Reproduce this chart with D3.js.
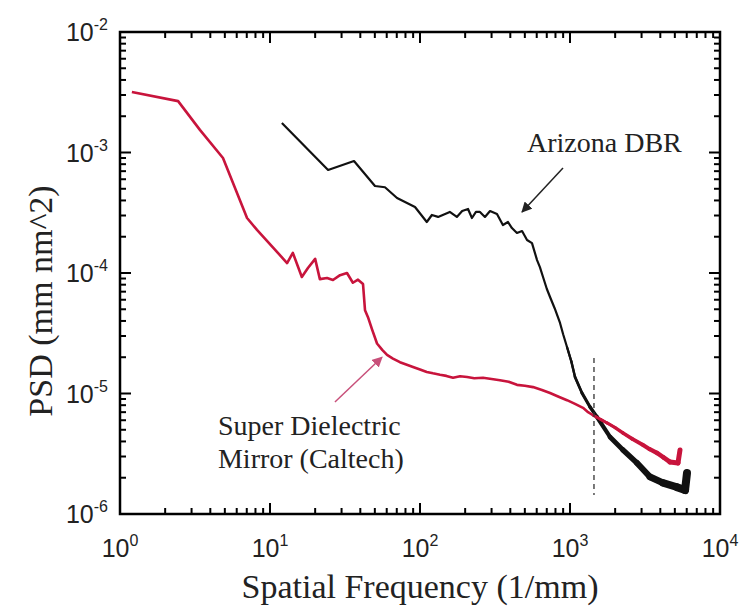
<!DOCTYPE html>
<html><head><meta charset="utf-8">
<script src="https://cdn.jsdelivr.net/npm/d3@7"></script>
<style>body{margin:0;background:#fff}svg{display:block}</style>
</head><body>
<script>
// ---- data ----
const caltechFreq = [1.2,2.44,3.41,4.86,7.03,8.19,13.0,14.2,16.3,17.9,20.0,21.5,24.0,26.3,29.3,32.6,35.7,38.6,41.7,43.0,45.0,47.9,51.7,56,60.3,66,73.5,80,89.8,100,111,122,136,150,166,185,206,230,263,300,341,390,443,500,567,650,736,840,955,1080,1221,1320,1424,1600,1765,2000,2256,2600,3067,3400,3802,4200,4642,5248,5412];
const caltechPSD  = [3.18e-3,2.67e-3,1.54e-3,9.0e-4,2.86e-4,2.28e-4,1.21e-4,1.47e-4,9.27e-5,1.10e-4,1.31e-4,8.9e-5,9.1e-5,8.75e-5,9.6e-5,1.0e-4,8.3e-5,8.8e-5,8.1e-5,4.9e-5,4.3e-5,3.4e-5,2.6e-5,2.3e-5,2.09e-5,1.95e-5,1.82e-5,1.75e-5,1.66e-5,1.58e-5,1.51e-5,1.47e-5,1.43e-5,1.40e-5,1.35e-5,1.39e-5,1.37e-5,1.34e-5,1.35e-5,1.32e-5,1.29e-5,1.25e-5,1.18e-5,1.16e-5,1.13e-5,1.07e-5,1.01e-5,9.4e-6,8.8e-6,8.2e-6,7.6e-6,7.0e-6,6.6e-6,6.1e-6,5.7e-6,5.2e-6,4.7e-6,4.2e-6,3.74e-6,3.45e-6,3.21e-6,2.95e-6,2.70e-6,2.65e-6,3.40e-6];
const arizonaFreq = [12.0,24.4,36.3,50.1,58.4,70.3,92.6,111,120,132,158,176,191,209,222,236,251,271,293,326,357,386,410,443,479,517,558,603,630,661,700,736,790,858,900,955,1020,1080,1202,1360,1514,1848,2256,2798,3415,4169,5164,5848,6026];
const arizonaPSD  = [1.76e-3,7.16e-4,8.5e-4,5.27e-4,5.15e-4,4.19e-4,3.53e-4,2.65e-4,3.03e-4,2.92e-4,3.21e-4,2.92e-4,3.27e-4,3.40e-4,2.86e-4,3.21e-4,3.21e-4,2.92e-4,3.27e-4,3.09e-4,2.50e-4,2.65e-4,2.36e-4,2.15e-4,2.23e-4,1.88e-4,1.77e-4,1.28e-4,1.12e-4,9.27e-5,7.4e-5,6.32e-5,5.1e-5,3.85e-5,3.1e-5,2.43e-5,1.85e-5,1.37e-5,1.01e-5,7.73e-6,6.38e-6,4.36e-6,3.40e-6,2.65e-6,2.03e-6,1.81e-6,1.67e-6,1.58e-6,2.19e-6];
const xTickExps = [0,1,2,3,4];
const yTickExps = [-2,-3,-4,-5,-6];
const xTitle = "Spatial Frequency (1/mm)";
const yTitle = "PSD (mm nm^2)";
const labelArizona = ["Arizona DBR"];
const labelCaltech = ["Super Dielectric","Mirror (Caltech)"];
const dashedFreq = 1445;
const dashedRange = [1.97e-5, 1.44e-6];

// ---- layout ----
const W = 743, H = 610;
const m = {left:120, top:32, right:23, bottom:96};
const iw = W - m.left - m.right, ih = H - m.top - m.bottom;

const svg = d3.select("body").append("svg").attr("width", W).attr("height", H);
const g = svg.append("g").attr("transform", `translate(${m.left},${m.top})`);

const x = d3.scaleLog().domain([1, 1e4]).range([0, iw]);
const y = d3.scaleLog().domain([1e-6, 1e-2]).range([ih, 0]);

const red = "#c8143c", blk = "#111";

// ---- data lines ----
function drawSeries(fx, fy, color, baseW, tailScale) {
  const pts = fx.map((d,i)=>[x(d), y(fy[i]), d]);
  const line = d3.line();
  g.append("path").attr("d", line(pts.map(p=>[p[0],p[1]])))
    .attr("fill","none").attr("stroke",color).attr("stroke-width",baseW)
    .attr("stroke-linejoin","round");
  for (let i=1;i<pts.length;i++){
    const w = tailScale(pts[i][2]);
    if (w > baseW) {
      g.append("line").attr("x1",pts[i-1][0]).attr("y1",pts[i-1][1])
        .attr("x2",pts[i][0]).attr("y2",pts[i][1])
        .attr("stroke",color).attr("stroke-width",w).attr("stroke-linecap","round");
    }
  }
}
const blackTail = d3.scaleLog().domain([1000,6000]).range([2.2,8]).clamp(true);
const redTail = d3.scaleLog().domain([1500,5500]).range([2.6,5]).clamp(true);
drawSeries(arizonaFreq, arizonaPSD, blk, 2.2, v=> v<1000?0:blackTail(v));
drawSeries(caltechFreq, caltechPSD, red, 2.6, v=> v<1500?0:redTail(v));

// dashed line
g.append("line").attr("x1",x(dashedFreq)).attr("x2",x(dashedFreq))
  .attr("y1",y(dashedRange[0])).attr("y2",y(dashedRange[1]))
  .attr("stroke","#333").attr("stroke-width",1.3).attr("stroke-dasharray","5,4");

// ---- axes frame and ticks ----
const frame = g.append("g");
frame.append("rect").attr("x",0).attr("y",0).attr("width",iw).attr("height",ih)
  .attr("fill","none").attr("stroke","#000").attr("stroke-width",2.5);

const majorLen = 11, minorLen = 6;
const xt = [];
xTickExps.forEach((e,i)=>{ if(i<xTickExps.length-1) for(let k=1;k<10;k++) xt.push([k*Math.pow(10,e), k===1]); });
xt.push([Math.pow(10,xTickExps[xTickExps.length-1]), true]);
xt.forEach(([v,maj])=>{
  const px = x(v), L = maj?majorLen:minorLen;
  frame.append("line").attr("x1",px).attr("x2",px).attr("y1",ih).attr("y2",ih-L).attr("stroke","#000").attr("stroke-width",2);
  frame.append("line").attr("x1",px).attr("x2",px).attr("y1",0).attr("y2",L).attr("stroke","#000").attr("stroke-width",2);
});
const yExpsAsc = yTickExps.slice().sort((a,b)=>a-b);
const yt = [];
yExpsAsc.forEach((e,i)=>{ if(i<yExpsAsc.length-1) for(let k=1;k<10;k++) yt.push([k*Math.pow(10,e), k===1]); });
yt.push([Math.pow(10,yExpsAsc[yExpsAsc.length-1]), true]);
yt.forEach(([v,maj])=>{
  const py = y(v), L = maj?majorLen:minorLen;
  frame.append("line").attr("y1",py).attr("y2",py).attr("x1",0).attr("x2",L).attr("stroke","#000").attr("stroke-width",2);
  frame.append("line").attr("y1",py).attr("y2",py).attr("x1",iw).attr("x2",iw-L).attr("stroke","#000").attr("stroke-width",2);
});

// tick labels
const tickFont = "'Liberation Sans', Arial, sans-serif";
xTickExps.forEach(e=>{
  const t = g.append("text").attr("x", x(Math.pow(10,e))).attr("y", ih+43)
    .attr("text-anchor","middle").attr("font-family",tickFont).attr("font-size",25).attr("fill","#222");
  t.append("tspan").text("10");
  t.append("tspan").attr("dy",-11).attr("font-size",16).text(String(e));
});
yTickExps.forEach(e=>{
  const t = g.append("text").attr("x", -12).attr("y", y(Math.pow(10,e))+9)
    .attr("text-anchor","end").attr("font-family",tickFont).attr("font-size",25).attr("fill","#222");
  t.append("tspan").text("10");
  t.append("tspan").attr("dy",-11).attr("font-size",16).text(String(e));
});

// axis titles
const serif = "'Liberation Serif', 'Times New Roman', serif";
svg.append("text").attr("x", m.left + iw/2).attr("y", H-12).attr("text-anchor","middle")
  .attr("font-family",serif).attr("font-size",34).attr("fill","#222").text(xTitle);
svg.append("text").attr("transform",`translate(52,${m.top+ih/2+28}) rotate(-90)`).attr("text-anchor","middle")
  .attr("font-family",serif).attr("font-size",34).attr("fill","#222").text(yTitle);

// ---- annotations ----
svg.append("defs").html(`
 <marker id="ab" viewBox="0 0 10 10" refX="9" refY="5" markerWidth="7" markerHeight="7" orient="auto"><path d="M0,0L10,5L0,10z" fill="#222"/></marker>
 <marker id="ap" viewBox="0 0 10 10" refX="9" refY="5" markerWidth="7" markerHeight="7" orient="auto"><path d="M0,0L10,5L0,10z" fill="#c8507a"/></marker>`);
g.append("text").attr("x",x(517)).attr("y",y(1.01e-3)).attr("font-family",serif).attr("font-size",28).attr("fill","#222").text(labelArizona[0]);
g.append("line").attr("x1",x(898)).attr("y1",y(7.43e-4)).attr("x2",x(479)).attr("y2",y(3.21e-4))
  .attr("stroke","#222").attr("stroke-width",1.5).attr("marker-end","url(#ab)");
const ct = g.append("text").attr("font-family",serif).attr("font-size",28).attr("fill","#222");
ct.append("tspan").attr("x",x(4.5)).attr("y",y(4.5e-6)).text(labelCaltech[0]);
ct.append("tspan").attr("x",x(4.5)).attr("y",y(2.41e-6)).text(labelCaltech[1]);
g.append("line").attr("x1",x(27.1)).attr("y1",y(8.5e-6)).attr("x2",x(55.8)).attr("y2",y(2.0e-5))
  .attr("stroke","#c8507a").attr("stroke-width",1.5).attr("marker-end","url(#ap)");
</script>
</body></html>
